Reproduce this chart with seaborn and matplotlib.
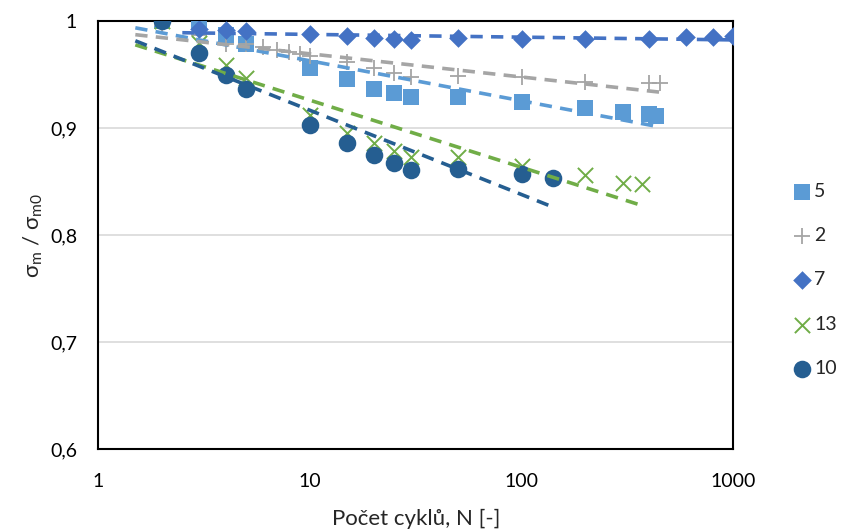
import numpy as np
import pandas as pd
import matplotlib
matplotlib.use('Agg')
import matplotlib.pyplot as plt
import seaborn as sns
from matplotlib.ticker import FuncFormatter, FixedLocator, NullLocator

# Data (cycle count N, normalised mean stress)
n_5 = [2, 3, 4, 5, 10, 15, 20, 25, 30, 50, 100, 200, 300, 400, 430]
s_5 = [1.0, 0.999, 0.987, 0.979, 0.956, 0.946, 0.937, 0.933, 0.929, 0.929, 0.924, 0.919, 0.915, 0.913, 0.911]

n_2 = [2, 3, 4, 5, 6, 7, 8, 9, 10, 15, 20, 25, 30, 50, 100, 200, 400, 450]
s_2 = [0.996, 0.987, 0.979, 0.979, 0.976, 0.973, 0.971, 0.969, 0.967, 0.962, 0.956, 0.952, 0.948,
       0.949, 0.948, 0.943, 0.942, 0.942]

n_7 = [3, 4, 5, 10, 15, 20, 25, 30, 50, 100, 200, 400, 600, 800, 1000]
s_7 = [0.993, 0.992, 0.991, 0.988, 0.986, 0.984, 0.983, 0.982, 0.984, 0.983, 0.983, 0.983, 0.985, 0.985, 0.986]

n_13 = [2, 3, 4, 5, 10, 15, 20, 25, 30, 50, 100, 200, 300, 370]
s_13 = [1.0, 0.98, 0.959, 0.947, 0.912, 0.895, 0.886, 0.879, 0.873, 0.873, 0.865, 0.856, 0.849, 0.848]

n_10 = [2, 3, 4, 5, 10, 15, 20, 25, 30, 50, 100, 140]
s_10 = [1.0, 0.970, 0.950, 0.937, 0.903, 0.886, 0.875, 0.867, 0.861, 0.862, 0.857, 0.853]

labels = ['5', '2', '7', '13', '10']
colors = ['#5B9BD5', '#A5A5A5', '#4472C4', '#70AD47', '#255E91']
markers = ['s', 'P', 'D', 'X', 'o']

series = [(n_5, s_5), (n_2, s_2), (n_7, s_7), (n_13, s_13), (n_10, s_10)]

sns.set_style('white')
plt.rcParams['font.family'] = ['Lato', 'DejaVu Sans']
plt.rcParams['mathtext.default'] = 'regular'

fig = plt.figure(figsize=(8.45, 5.3), dpi=100)
ax = fig.add_axes([0.116, 0.153, 0.752, 0.807])

marker_kw = {
    's': dict(s=125, marker='s', linewidth=0),
    'P': dict(s=130, marker='+', linewidth=1.3),
    'D': dict(s=90, marker='D', linewidth=0),
    'X': dict(s=120, marker='x', linewidth=1.4),
    'o': dict(s=160, marker='o', linewidth=0),
}

for (n, s), lab, col, mk in zip(series, labels, colors, markers):
    df = pd.DataFrame({'N': n, 'ratio': s})
    sns.scatterplot(data=df, x='N', y='ratio', color=col, ax=ax, label=lab,
                    zorder=3, **marker_kw[mk])

# logarithmic trend lines, forecast backward by 0.5 cycle
for (n, s), col in zip(series, colors):
    coef = np.polyfit(np.log10(n), s, 1)
    xt = np.geomspace(n[0] - 0.5, n[-1], 60)
    trend = pd.DataFrame({'N': xt, 'ratio': np.polyval(coef, np.log10(xt))})
    sns.lineplot(data=trend, x='N', y='ratio', color=col, ax=ax, linewidth=2.6,
                 linestyle=(0, (3.4, 2.3)), zorder=4, legend=False)

ax.set_xscale('log')
ax.set_xlim(1, 1000)
ax.set_ylim(0.6, 1.0)
ax.xaxis.set_major_locator(FixedLocator([1, 10, 100, 1000]))
ax.xaxis.set_minor_locator(NullLocator())
ax.xaxis.set_major_formatter(FuncFormatter(lambda v, p: f'{v:g}'))
ax.yaxis.set_major_locator(FixedLocator([0.6, 0.7, 0.8, 0.9, 1.0]))
ax.yaxis.set_major_formatter(FuncFormatter(lambda v, p: f'{v:.1f}'.replace('.', ',') if v < 0.99 else '1'))
ax.tick_params(axis='both', direction='in', length=5, width=1.3, labelsize=14, colors='black')
ax.tick_params(axis='y', pad=15)
ax.tick_params(axis='x', pad=17)

ax.yaxis.grid(True, color='#D9D9D9', linewidth=1.2)
ax.xaxis.grid(False)
for sp in ax.spines.values():
    sp.set_color('black')
    sp.set_linewidth(1.5)

ax.set_xlabel('Počet cyklů, N [-]', fontsize=16, labelpad=14)
ax.set_ylabel(r'$\sigma_m$ / $\sigma_{m0}$', fontsize=16, labelpad=4)

leg = ax.legend(loc='center left', bbox_to_anchor=(1.078, 0.395), frameon=False, fontsize=14,
                labelspacing=1.4, handletextpad=0.0, handlelength=1.2, borderaxespad=0)

fig.savefig('out.png', dpi=100)
